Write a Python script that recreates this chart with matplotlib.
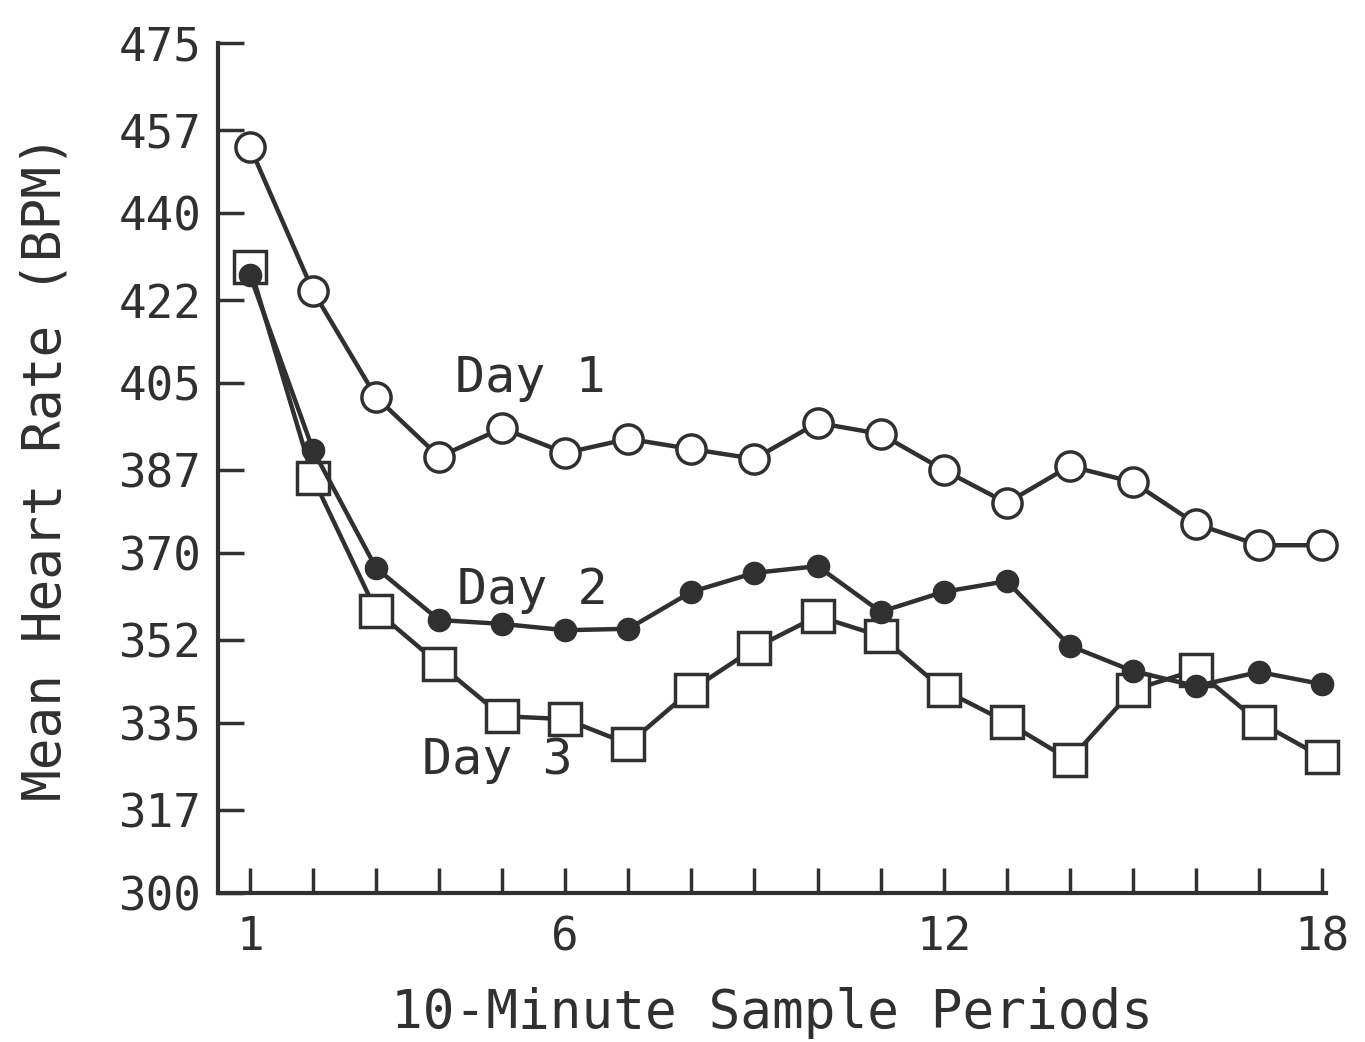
import matplotlib
matplotlib.use("Agg")
import matplotlib.pyplot as plt

periods = list(range(1, 19))
day1 = [453.6, 423.9, 402.1, 389.8, 395.7, 390.6, 393.5, 391.4, 389.4, 396.8,
        394.5, 387.1, 380.3, 387.9, 384.6, 376.0, 371.6, 371.6]
day2 = [427.2, 391.2, 366.9, 356.2, 355.4, 354.1, 354.4, 362.0, 365.9, 367.3,
        357.9, 362.0, 364.2, 350.9, 345.7, 342.6, 345.5, 343.0]
day3 = [428.9, 385.4, 358.1, 347.1, 336.4, 335.8, 330.7, 341.8, 350.4, 357.0,
        352.9, 341.8, 335.2, 327.4, 341.8, 345.9, 335.2, 328.0]
yticks = [300, 317, 335, 352, 370, 387, 405, 422, 440, 457, 475]
xticklabels = {1: "1", 6: "6", 12: "12", 18: "18"}

ink = "#303030"
font = "DejaVu Sans Mono"

fig = plt.figure(figsize=(13.65, 10.42), dpi=100)
ax = fig.add_axes([218/1365, 1-893/1042, (1326-218)/1365, (893-43)/1042])

ax.plot(periods, day1, color=ink, lw=3.2, marker="o", ms=21, mfc="white",
        mec=ink, mew=2.5, zorder=3, clip_on=False)
ax.plot(periods, day3, color=ink, lw=3.2, marker="s", ms=23, mfc="white",
        mec=ink, mew=2.5, zorder=3, clip_on=False)
ax.plot(periods, day2, color=ink, lw=3.2, marker="o", ms=16, mfc=ink,
        mec=ink, mew=1, zorder=4, clip_on=False)

ax.set_xlim(1 - 32/63.06, 18 + 4/63.06)
ax.set_ylim(300, 475)

ax.set_xticks(periods)
ax.set_xticklabels([xticklabels.get(p, "") for p in periods])
ax.set_yticks(yticks)
ax.set_yticklabels([str(v) for v in yticks])

for s in ["top", "right"]:
    ax.spines[s].set_visible(False)
for s in ["left", "bottom"]:
    ax.spines[s].set_linewidth(3)
    ax.spines[s].set_color(ink)

ax.tick_params(axis="y", direction="in", length=19, width=2.5, color=ink,
               pad=12, labelsize=33, labelcolor=ink)
ax.tick_params(axis="x", direction="in", length=18, width=2.5, color=ink,
               pad=16, labelsize=33, labelcolor=ink)
for lab in ax.get_xticklabels() + ax.get_yticklabels():
    lab.set_fontfamily(font)

ax.set_xlabel("10-Minute Sample Periods", fontsize=38, family=font,
              color=ink, labelpad=19)
ax.set_ylabel("Mean Heart Rate (BPM)", fontsize=38, family=font,
              color=ink, labelpad=34)

ax.text(5.44, 406.0, "Day 1", fontsize=36, family=font, color=ink,
        ha="center", va="center")
ax.text(5.47, 362.4, "Day 2", fontsize=36, family=font, color=ink,
        ha="center", va="center")
ax.text(4.92, 327.4, "Day 3", fontsize=36, family=font, color=ink,
        ha="center", va="center")

fig.savefig("out.png", dpi=100, facecolor="white")
